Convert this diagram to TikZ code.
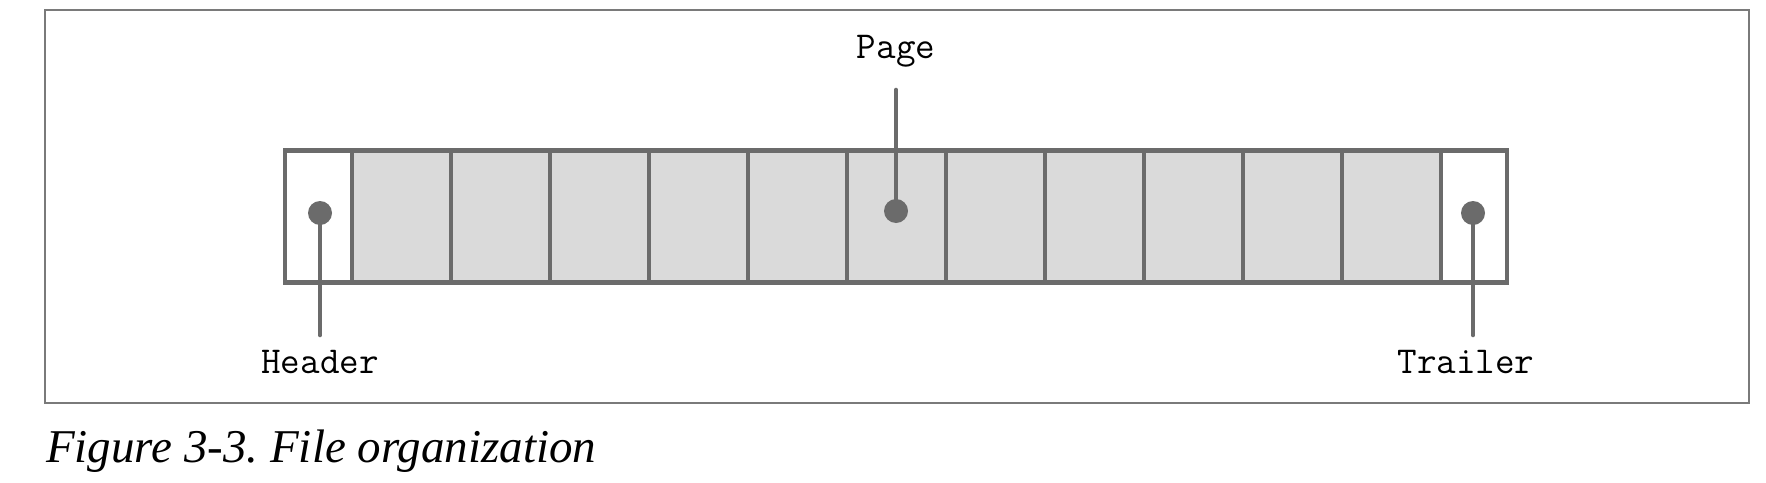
\documentclass[tikz,border=0pt]{standalone}
\usepackage{fontspec}
\newfontfamily\captionfont{Liberation Serif}
\definecolor{boxgray}{HTML}{6B6B6B}
\definecolor{cellfill}{HTML}{DADADA}
\definecolor{framegray}{HTML}{7A7A7A}

\begin{document}
\begin{tikzpicture}[x=1pt, y=-1pt,
    cell/.style={draw=boxgray, line width=4.3pt, fill=cellfill, minimum width=99pt, minimum height=132pt, inner sep=0pt},
    endcell/.style={cell, fill=white, minimum width=67pt},
    dot/.style={circle, fill=boxgray, minimum size=24pt, inner sep=0pt},
    lead/.style={draw=boxgray, line width=4.6pt, line cap=round},
    lbl/.style={font=\fontsize{38}{40}\selectfont\ttfamily, anchor=base}]
    \useasboundingbox (0,0) rectangle (1766,482);
    \draw[framegray, line width=1.4pt] (45,10) rectangle (1749,403);
    % the file: header, pages, trailer
    \node[endcell] (header) at (318.5,216.5) {};
    \foreach \i in {1,...,11}
        \node[cell] (p\i) at ({352+99*\i-49.5},216.5) {};
    \node[endcell, minimum width=66pt] (trailer) at (1474,216.5) {};
    % dots and leads
    \node[dot] (hdot) at (320,213) {};
    \node[dot] (pdot) at (896,211) {};
    \node[dot] (tdot) at (1473,213) {};
    \coordinate (hend) at (320,335);
    \coordinate (pend) at (896,90);
    \coordinate (tend) at (1473,335);
    \draw[lead] (hdot.center) -- (hend);
    \draw[lead] (pdot.center) -- (pend);
    \draw[lead] (tdot.center) -- (tend);
    \node[lbl] (hlabel) at (320,373) {Header};
    \node[lbl] (plabel) at (896,58) {Page};
    \node[lbl] (tlabel) at (1466,373) {Trailer};
    \node[anchor=base west, inner sep=0pt, font=\fontsize{47}{50}\selectfont\captionfont\itshape] (caption) at (46,462) {Figure 3-3.\ File organization};
\end{tikzpicture}
\end{document}
